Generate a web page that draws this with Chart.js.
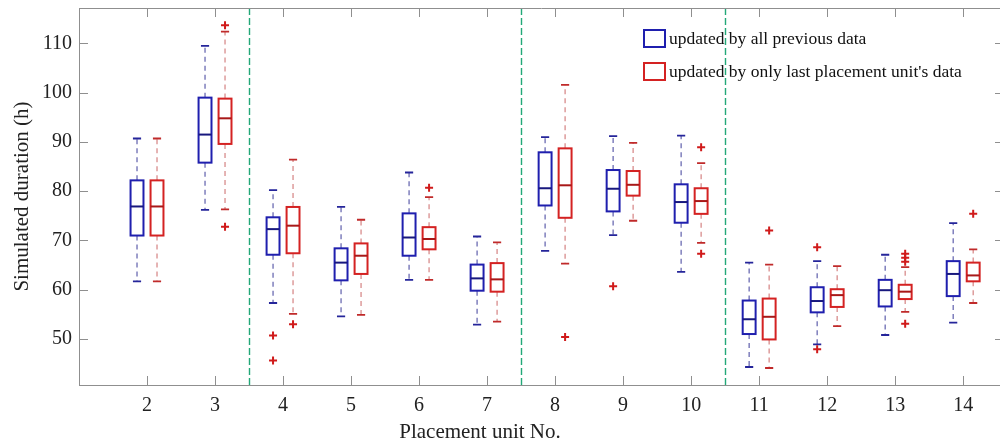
<!DOCTYPE html>
<html>
<head>
<meta charset="utf-8">
<script src="https://cdn.jsdelivr.net/npm/chart.js@4.4.1/dist/chart.umd.min.js"></script>
<style>
  html, body { margin: 0; padding: 0; background: #fff; overflow: hidden; width: 1000px; height: 444px; }
  #wrap { position: relative; width: 1000px; height: 444px; overflow: hidden; }
  canvas { display: block; }
</style>
</head>
<body>
<div id="wrap"><canvas id="c" width="1010" height="444"></canvas></div>
<script>
// ---- Data ----
const categories = [2, 3, 4, 5, 6, 7, 8, 9, 10, 11, 12, 13, 14];
const xTicks = [2, 3, 4, 5, 6, 7, 8, 9, 10, 11, 12, 13, 14];
const yTicks = [50, 60, 70, 80, 90, 100, 110];
const dividers = [3.5, 7.5, 10.5];

// "updated by all previous data"
const allMax = [90.7, 109.5, 80.2, 76.8, 83.8, 70.8, 91.0, 91.2, 91.3, 65.5, 65.8, 67.1, 73.5];
const allQ3  = [82.2, 99.0, 74.7, 68.4, 75.5, 65.1, 87.9, 84.3, 81.4, 57.8, 60.5, 62.0, 65.8];
const allMed = [76.9, 91.5, 72.3, 65.5, 70.6, 62.3, 80.6, 80.5, 77.8, 54.0, 57.7, 59.9, 63.2];
const allQ1  = [71.0, 85.8, 67.1, 61.9, 66.9, 59.8, 77.1, 75.9, 73.6, 51.0, 55.4, 56.6, 58.7];
const allMin = [61.7, 76.2, 57.3, 54.6, 62.0, 52.9, 67.9, 71.1, 63.6, 44.3, 48.9, 50.8, 53.3];
const allOutliers = [[], [], [50.7, 45.6], [], [], [], [], [60.7], [], [], [68.6, 47.9], [], []];

// "updated by only last placement unit's data"
const lastMax = [90.7, 112.4, 86.4, 74.2, 78.8, 69.6, 101.6, 89.8, 85.7, 65.1, 64.8, 64.6, 68.2];
const lastQ3  = [82.2, 98.8, 76.8, 69.4, 72.7, 65.4, 88.7, 84.1, 80.6, 58.2, 60.1, 61.0, 65.5];
const lastMed = [76.9, 94.8, 73.0, 66.9, 70.3, 62.1, 81.2, 81.3, 78.0, 54.5, 58.9, 59.6, 62.9];
const lastQ1  = [71.0, 89.6, 67.4, 63.2, 68.2, 59.6, 74.6, 79.1, 75.4, 49.9, 56.5, 58.1, 61.7];
const lastMin = [61.7, 76.3, 55.1, 54.9, 62.0, 53.5, 65.3, 74.0, 69.5, 44.1, 52.6, 55.5, 57.3];
const lastOutliers = [[], [113.7, 72.8], [53.0], [], [80.7], [], [50.4], [], [88.9, 67.3], [72.0], [], [67.3, 66.5, 65.7, 53.1], [75.4]];

const legendLabels = ["updated by all previous data", "updated by only last placement unit's data"];
const xTitle = "Placement unit No.";
const yTitle = "Simulated duration (h)";

// ---- Styling ----
const FONT = '"Liberation Serif", "Times New Roman", serif';
const GROUP_OFFSET = 0.147;
const BOX_HALF = 0.095;
const CAP_HALF = 0.06;

const series = [
  { name: legendLabels[0], offset: -GROUP_OFFSET, max: allMax, q3: allQ3, med: allMed, q1: allQ1, min: allMin,
    box: '#1f1fae', median: '#18187e', whisker: '#6b6bb2', cap: '#25259a' },
  { name: legendLabels[1], offset: GROUP_OFFSET, max: lastMax, q3: lastQ3, med: lastMed, q1: lastQ1, min: lastMin,
    box: '#d42222', median: '#a81818', whisker: '#d88c8c', cap: '#c02a2a' }
];

function outlierPoints(arrs, offset) {
  const pts = [];
  arrs.forEach((arr, i) => arr.forEach(v => pts.push({ x: categories[i] + offset, y: v })));
  return pts;
}

const boxPlugin = {
  id: 'boxplot',
  beforeDatasetsDraw(chart) {
    const { ctx, chartArea: a, scales: { x, y } } = chart;
    ctx.save();
    ctx.beginPath();
    ctx.rect(a.left, a.top, a.right - a.left, a.bottom - a.top);
    ctx.clip();
    // dividers
    ctx.strokeStyle = '#22a878';
    ctx.lineWidth = 1.4;
    ctx.setLineDash([7, 3]);
    dividers.forEach(v => {
      const px = Math.round(x.getPixelForValue(v)) + 0.5;
      ctx.beginPath(); ctx.moveTo(px, a.top); ctx.lineTo(px, a.bottom); ctx.stroke();
    });
    // boxes
    series.forEach(s => {
      categories.forEach((c, i) => {
        const cx = x.getPixelForValue(c + s.offset);
        const hw = x.getPixelForValue(c + s.offset + BOX_HALF) - cx;
        const cw = x.getPixelForValue(c + s.offset + CAP_HALF) - cx;
        const yMax = y.getPixelForValue(s.max[i]);
        const yQ3 = y.getPixelForValue(s.q3[i]);
        const yMed = y.getPixelForValue(s.med[i]);
        const yQ1 = y.getPixelForValue(s.q1[i]);
        const yMin = y.getPixelForValue(s.min[i]);
        // whiskers
        ctx.strokeStyle = s.whisker;
        ctx.lineWidth = 1.3;
        ctx.setLineDash([5, 4]);
        ctx.beginPath();
        ctx.moveTo(cx, yQ3); ctx.lineTo(cx, yMax);
        ctx.moveTo(cx, yQ1); ctx.lineTo(cx, yMin);
        ctx.stroke();
        // caps
        ctx.setLineDash([]);
        ctx.strokeStyle = s.cap;
        ctx.lineWidth = 1.8;
        ctx.beginPath();
        ctx.moveTo(cx - cw, yMax); ctx.lineTo(cx + cw, yMax);
        ctx.moveTo(cx - cw, yMin); ctx.lineTo(cx + cw, yMin);
        ctx.stroke();
        // box
        ctx.strokeStyle = s.box;
        ctx.lineWidth = 2;
        ctx.strokeRect(cx - hw, yQ3, 2 * hw, yQ1 - yQ3);
        // median
        ctx.strokeStyle = s.median;
        ctx.beginPath();
        ctx.moveTo(cx - hw, yMed); ctx.lineTo(cx + hw, yMed);
        ctx.stroke();
      });
    });
    ctx.restore();
  },
  afterDraw(chart) {
    const { ctx, chartArea: a, scales: { x, y } } = chart;
    ctx.save();
    // frame top/right and inward ticks
    ctx.strokeStyle = '#8f8f8f';
    ctx.lineWidth = 1;
    ctx.setLineDash([]);
    ctx.beginPath();
    ctx.moveTo(a.left, Math.round(a.top) + 0.5); ctx.lineTo(a.right, Math.round(a.top) + 0.5);
    ctx.moveTo(Math.round(a.right) - 0.5, a.top); ctx.lineTo(Math.round(a.right) - 0.5, a.bottom);
    const TL = 9;
    xTicks.forEach(v => {
      const px = Math.round(x.getPixelForValue(v)) + 0.5;
      ctx.moveTo(px, a.bottom); ctx.lineTo(px, a.bottom - TL);
      ctx.moveTo(px, a.top); ctx.lineTo(px, a.top + TL);
    });
    yTicks.forEach(v => {
      const py = Math.round(y.getPixelForValue(v)) + 0.5;
      ctx.moveTo(a.left, py); ctx.lineTo(a.left + TL, py);
      ctx.moveTo(a.right, py); ctx.lineTo(a.right - TL, py);
    });
    ctx.stroke();
    // legend
    const lx = 644, lw = 21, lh = 17;
    const rows = [{ top: 30, color: series[0].box }, { top: 63, color: series[1].box }];
    ctx.font = '17.5px ' + FONT;
    ctx.textBaseline = 'middle';
    ctx.textAlign = 'left';
    rows.forEach((r, i) => {
      ctx.fillStyle = '#ffffff';
      ctx.fillRect(lx, r.top, lw, lh);
      ctx.strokeStyle = r.color;
      ctx.lineWidth = 2;
      ctx.strokeRect(lx, r.top, lw, lh);
      ctx.fillStyle = '#111111';
      ctx.fillText(legendLabels[i], lx + lw + 4, r.top + lh / 2 + 1);
    });
    // x axis title
    ctx.font = '21px ' + FONT;
    ctx.fillStyle = '#222222';
    ctx.textAlign = 'center';
    ctx.textBaseline = 'middle';
    ctx.fillText(xTitle, 480, 432);
    ctx.restore();
  }
};

const chart = new Chart(document.getElementById('c'), {
  type: 'scatter',
  data: {
    datasets: [
      { label: legendLabels[0] + ' outliers', data: outlierPoints(allOutliers, -GROUP_OFFSET),
        pointStyle: 'cross', pointRadius: 4, borderColor: '#d01a1a', borderWidth: 2, backgroundColor: '#d01a1a' },
      { label: legendLabels[1] + ' outliers', data: outlierPoints(lastOutliers, GROUP_OFFSET),
        pointStyle: 'cross', pointRadius: 4, borderColor: '#d01a1a', borderWidth: 2, backgroundColor: '#d01a1a' }
    ]
  },
  options: {
    responsive: false,
    animation: false,
    devicePixelRatio: 1,
    layout: { padding: { top: 8, right: 3, left: 0, bottom: 0 } },
    plugins: { legend: { display: false }, tooltip: { enabled: false } },
    scales: {
      x: {
        type: 'linear', min: 1, max: 14.6,
        grid: { display: false, drawTicks: false },
        border: { display: true, color: '#8f8f8f', width: 1 },
        ticks: { font: { family: FONT, size: 20 }, color: '#222222', padding: 9, maxRotation: 0 },
        afterBuildTicks: s => { s.ticks = xTicks.map(v => ({ value: v })); },
        afterFit: s => { s.height = 59; s.paddingLeft = 0; s.paddingRight = 0; }
      },
      y: {
        type: 'linear', min: 40.65, max: 117.2,
        grid: { display: false, drawTicks: false },
        border: { display: true, color: '#8f8f8f', width: 1 },
        ticks: { font: { family: FONT, size: 20 }, color: '#222222', padding: 7 },
        title: { display: true, text: yTitle, font: { family: FONT, size: 21 }, color: '#222222', padding: { top: 10, bottom: 0 } },
        afterBuildTicks: s => { s.ticks = yTicks.map(v => ({ value: v })); },
        afterFit: s => { s.width = 79; s.paddingTop = 0; s.paddingBottom = 0; }
      }
    }
  },
  plugins: [boxPlugin]
});
</script>
</body>
</html>
